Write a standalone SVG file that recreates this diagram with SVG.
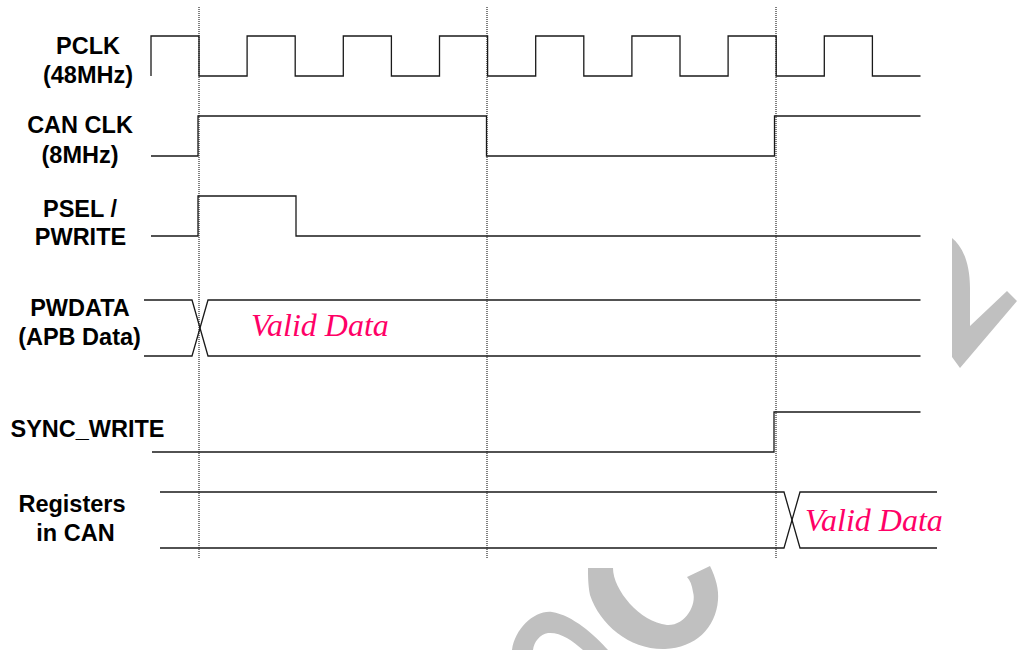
<svg xmlns="http://www.w3.org/2000/svg" width="1017" height="650" viewBox="0 0 1017 650">
<style>
.lbl{font-family:"Liberation Sans",Arial,sans-serif;font-weight:bold;font-size:23.5px;fill:#000;text-anchor:middle}
.sig{fill:none;stroke:#1a1a1a;stroke-width:1.3;stroke-linejoin:miter}
.val{font-family:"Liberation Serif","Times New Roman",serif;font-style:italic;font-size:32px;fill:#FF0066}
.guide{stroke:#000;stroke-width:1;stroke-dasharray:1,1;fill:none}
.wm{fill:#C0C0C0;stroke:none}
</style>
<rect width="1017" height="650" fill="#fff"/>
<g id="watermark">
<path class="wm" d="M952,238 C962,246 970,262 970,288 L970,326 L1007,291 L1017,301 L960,368 L952,357 Z"/>
<path class="wm" d="M588,568 L613,568 C613,590 640,622 667,625 C685,626 697,605 693,592 C692,585 690,580 687,577 L710,566 C716,578 719,590 718,600 C716,628 695,648 665,649 C630,650 600,625 590,595 C588,585 588,575 588,568 Z"/>
<path class="wm" d="M512,650 C515,628 535,610 552,612 C572,615 595,635 608,650 L583,650 C572,640 560,632 548,633 C540,634 534,642 533,650 Z"/>
</g>
<g id="connectors">
<line class="guide" x1="199" y1="7" x2="199" y2="558"/>
<line class="guide" x1="487" y1="7" x2="487" y2="558"/>
<line class="guide" x1="776" y1="7" x2="776" y2="558"/>
</g>
<g id="pclk">
<text class="lbl" x="88" y="53.5">PCLK</text>
<text class="lbl" x="88" y="83">(48MHz)</text>
<path class="sig" d="M151,76 V36 H199 V76 H247.1 V36 H295.2 V76 H343.3 V36 H391.4 V76 H439.5 V36 H487.6 V76 H535.7 V36 H583.8 V76 H631.9 V36 H680 V76 H728.1 V36 H776.2 V76 H824.3 V36 H872.4 V76 H920.5"/>
</g>
<g id="canclk">
<text class="lbl" x="80" y="133">CAN CLK</text>
<text class="lbl" x="80" y="163">(8MHz)</text>
<path class="sig" d="M151,156 H198 V116 H486.5 V156 H774.5 V116 H920.5"/>
</g>
<g id="psel">
<text class="lbl" x="80" y="216.5">PSEL /</text>
<text class="lbl" x="80.5" y="245">PWRITE</text>
<path class="sig" d="M151,236 H198 V196 H296 V236 H920.5"/>
</g>
<g id="pwdata">
<text class="lbl" x="80" y="316">PWDATA</text>
<text class="lbl" x="79.5" y="345">(APB Data)</text>
<path class="sig" d="M144,300 H192 L208,356 H920.5"/>
<path class="sig" d="M144,356 H192 L208,300 H920.5"/>
<text class="val" x="251" y="335.5">Valid Data</text>
</g>
<g id="sync_write">
<text class="lbl" x="87.5" y="436.7">SYNC_WRITE</text>
<path class="sig" d="M152,452 H774 V412 H920.5"/>
</g>
<g id="registers">
<text class="lbl" x="72" y="512">Registers</text>
<text class="lbl" x="75.5" y="540.7">in CAN</text>
<path class="sig" d="M160,492 H784 L800,548 H937"/>
<path class="sig" d="M160,548 H784 L800,492 H937"/>
<text class="val" x="805" y="530.7">Valid Data</text>
</g>
</svg>
